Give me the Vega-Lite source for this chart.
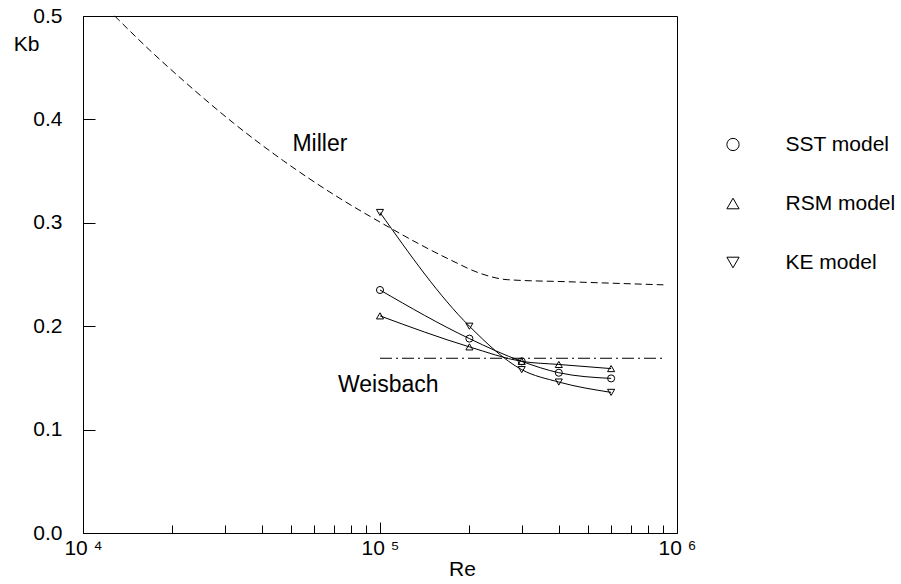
{
  "$schema": "https://vega.github.io/schema/vega-lite/v6.json",
  "width": 594,
  "height": 517,
  "autosize": {"type": "none"},
  "padding": {"left": 83, "top": 16, "right": 224, "bottom": 51},
  "background": "white",
  "config": {
    "font": "Liberation Sans",
    "view": {"stroke": "black", "strokeWidth": 1},
    "axis": {"grid": false, "domainColor": "black", "tickColor": "black", "labelColor": "black", "titleColor": "black", "titleFontWeight": "normal", "labelFont": "Liberation Sans", "titleFont": "Liberation Sans"},
    "legend": {"padding": 0}
  },
  "datasets": {
    "miller": [
      {"Re": 12790, "Kb": 0.5},
      {"Re": 16770, "Kb": 0.467},
      {"Re": 21740, "Kb": 0.4377},
      {"Re": 32040, "Kb": 0.3967},
      {"Re": 47290, "Kb": 0.36},
      {"Re": 69700, "Kb": 0.3275},
      {"Re": 102800, "Kb": 0.2987},
      {"Re": 136500, "Kb": 0.279},
      {"Re": 173000, "Kb": 0.264},
      {"Re": 218000, "Kb": 0.251},
      {"Re": 268000, "Kb": 0.245},
      {"Re": 428000, "Kb": 0.243},
      {"Re": 900000, "Kb": 0.24}
    ],
    "weisbach": [
      {"Re": 100000, "Kb": 0.169},
      {"Re": 897000, "Kb": 0.169}
    ],
    "models": [
      {"model": "SST model", "Re": 100000, "Kb": 0.235},
      {"model": "SST model", "Re": 200000, "Kb": 0.188},
      {"model": "SST model", "Re": 300000, "Kb": 0.166},
      {"model": "SST model", "Re": 400000, "Kb": 0.155},
      {"model": "SST model", "Re": 600000, "Kb": 0.1495},
      {"model": "RSM model", "Re": 100000, "Kb": 0.21},
      {"model": "RSM model", "Re": 200000, "Kb": 0.18},
      {"model": "RSM model", "Re": 300000, "Kb": 0.166},
      {"model": "RSM model", "Re": 400000, "Kb": 0.163},
      {"model": "RSM model", "Re": 600000, "Kb": 0.159},
      {"model": "KE model", "Re": 100000, "Kb": 0.31},
      {"model": "KE model", "Re": 200000, "Kb": 0.2},
      {"model": "KE model", "Re": 300000, "Kb": 0.158},
      {"model": "KE model", "Re": 400000, "Kb": 0.146},
      {"model": "KE model", "Re": 600000, "Kb": 0.136}
    ],
    "notes": [
      {"Re": 50700, "Kb": 0.376, "text": "Miller"},
      {"Re": 72200, "Kb": 0.143, "text": "Weisbach"}
    ]
  },
  "encoding": {
    "x": {
      "field": "Re",
      "type": "quantitative",
      "scale": {"type": "log", "domain": [10000, 1000000], "nice": false},
      "axis": {
        "title": "Re",
        "values": [10000, 20000, 30000, 40000, 50000, 60000, 70000, 80000, 90000, 100000, 200000, 300000, 400000, 500000, 600000, 700000, 800000, 900000, 1000000],
        "tickSize": {"condition": {"test": "datum.value == 10000 || datum.value == 100000 || datum.value == 1000000", "value": -11}, "value": -8},
        "labelExpr": "datum.value == 10000 ? '10 ⁴' : datum.value == 100000 ? '10 ⁵' : datum.value == 1000000 ? '10 ⁶' : ''",
        "labelPadding": 15,
        "labelFontSize": 21,
        "labelFlush": false,
        "labelOverlap": false,
        "titleFontSize": 21,
        "titleX": 379,
        "titleY": 25,
        "titleBaseline": "top"
      }
    },
    "y": {
      "field": "Kb",
      "type": "quantitative",
      "scale": {"domain": [0, 0.5], "nice": false},
      "axis": {
        "title": "Kb",
        "values": [0, 0.1, 0.2, 0.3, 0.4, 0.5],
        "format": ".1f",
        "tickSize": -12,
        "labelPadding": 33,
        "labelFontSize": 21,
        "titleFontSize": 21,
        "titleAngle": 0,
        "titleX": -57,
        "titleY": 28,
        "titleAlign": "center",
        "titleBaseline": "middle"
      }
    }
  },
  "layer": [
    {
      "data": {"name": "miller"},
      "mark": {"type": "line", "color": "black", "strokeWidth": 1, "strokeDash": [7, 4], "interpolate": "monotone"},
      "encoding": {}
    },
    {
      "data": {"name": "weisbach"},
      "mark": {"type": "line", "color": "black", "strokeWidth": 1, "strokeDash": [12, 4, 2, 4]},
      "encoding": {}
    },
    {
      "data": {"name": "models"},
      "mark": {"type": "line", "color": "black", "strokeWidth": 1, "interpolate": "monotone"},
      "encoding": {"detail": {"field": "model", "type": "nominal"}}
    },
    {
      "data": {"name": "models"},
      "mark": {"type": "point", "filled": false, "color": "black", "strokeWidth": 1, "size": 50, "opacity": 1},
      "encoding": {
        "shape": {
          "field": "model",
          "type": "nominal",
          "scale": {"domain": ["SST model", "RSM model", "KE model"], "range": ["circle", "triangle-up", "triangle-down"]},
          "legend": {
            "title": null,
            "orient": "none",
            "legendX": 639.5,
            "legendY": 118,
            "padding": 0,
            "labelFontSize": 21,
            "labelFont": "Liberation Sans",
            "labelColor": "black",
            "symbolSize": 150,
            "symbolStrokeColor": "black",
            "symbolStrokeWidth": 1,
            "symbolOpacity": 1,
            "rowPadding": 37,
            "labelOffset": 42,
            "encode": {
              "symbols": {"update": {"stroke": {"value": "black"}, "fill": {"value": "transparent"}, "strokeWidth": {"value": 1}, "opacity": {"value": 1}}}
            }
          }
        }
      }
    },
    {
      "data": {"name": "notes"},
      "mark": {"type": "text", "align": "left", "baseline": "middle", "fontSize": 23, "font": "Liberation Sans", "color": "black"},
      "encoding": {"text": {"field": "text", "type": "nominal"}}
    }
  ]
}
